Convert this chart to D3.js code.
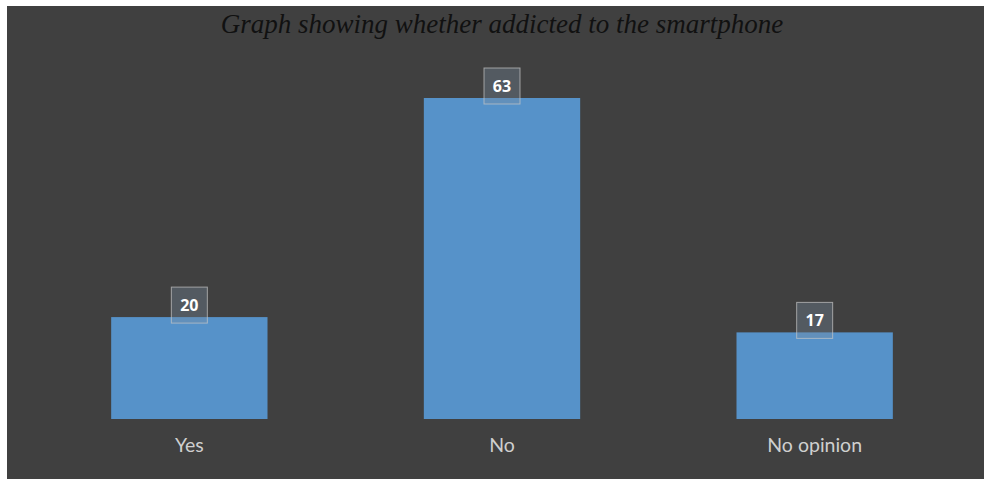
<!DOCTYPE html>
<html>
<head>
<meta charset="utf-8">
<script src="https://cdn.jsdelivr.net/npm/d3@7"></script>
<style>
  html, body { margin: 0; padding: 0; background: #ffffff; }
  svg { display: block; }
</style>
</head>
<body>
<svg id="chart" width="984" height="479"></svg>
<script>
const categories = ["Yes", "No", "No opinion"];
const values = [20, 63, 17];
const chartTitle = "Graph showing whether addicted to the smartphone";

const svg = d3.select("#chart");
const W = 984, H = 479;

// dark panel
svg.append("rect")
  .attr("x", 7).attr("y", 6)
  .attr("width", W - 7).attr("height", H - 6)
  .attr("fill", "#404040");

const x = d3.scaleBand()
  .domain(categories)
  .range([33, 971])
  .paddingInner(0.5)
  .paddingOuter(0.25);

const y = d3.scaleLinear()
  .domain([0, 63])
  .range([419, 98]);

// title
svg.append("text")
  .attr("x", 502).attr("y", 33)
  .attr("text-anchor", "middle")
  .attr("font-family", "Liberation Serif, serif")
  .attr("font-style", "italic")
  .attr("font-size", 27)
  .attr("fill", "#111111")
  .text(chartTitle);

// bars
svg.append("g").selectAll("rect")
  .data(values)
  .join("rect")
  .attr("x", (d, i) => x(categories[i]))
  .attr("y", d => y(d))
  .attr("width", x.bandwidth())
  .attr("height", d => y(0) - y(d))
  .attr("fill", "#5692c9");

// value labels in boxes
const lab = svg.append("g").selectAll("g")
  .data(values)
  .join("g")
  .attr("transform", (d, i) => `translate(${x(categories[i]) + x.bandwidth() / 2},${y(d) - 12})`);

lab.append("rect")
  .attr("x", -18).attr("y", -18)
  .attr("width", 36).attr("height", 36)
  .attr("fill", "rgba(120,140,160,0.35)")
  .attr("stroke", "rgba(200,200,200,0.7)")
  .attr("stroke-width", 1);

lab.append("text")
  .attr("text-anchor", "middle")
  .attr("dy", "0.36em")
  .attr("font-family", "Open Sans, sans-serif")
  .attr("font-weight", "bold")
  .attr("font-size", 16)
  .attr("fill", "#ffffff")
  .text(d => d);

// category axis
const axis = svg.append("g")
  .attr("transform", `translate(0,419)`)
  .call(d3.axisBottom(x).tickSize(0).tickPadding(19));
axis.select(".domain").remove();
axis.selectAll("text")
  .attr("font-family", "Lato, sans-serif")
  .attr("font-size", 19.5)
  .attr("fill", "#cfcfcf");
</script>
</body>
</html>
